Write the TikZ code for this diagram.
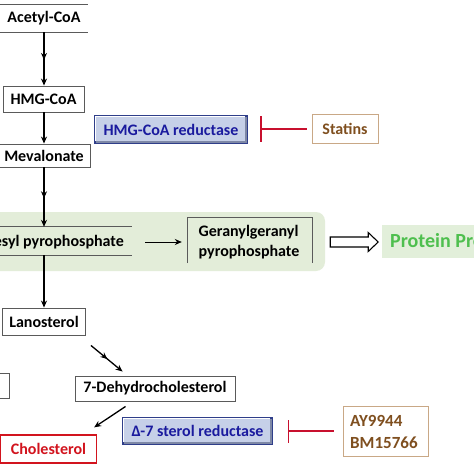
\documentclass[tikz,border=0pt]{standalone}
\usepackage{fontspec}
\setmainfont{Carlito}
\usetikzlibrary{arrows.meta,decorations.markings,calc}
\definecolor{boxgray}{HTML}{5A5A5A}
\definecolor{greenbg}{HTML}{E3EDD9}
\definecolor{protfill}{HTML}{E2EFDA}
\definecolor{protgreen}{HTML}{4EBF4E}
\definecolor{enzfill}{HTML}{C6D0E8}
\definecolor{enzborder}{HTML}{2F3E8A}
\definecolor{enzshade}{HTML}{7E88A6}
\definecolor{enztext}{HTML}{1A1A9E}
\definecolor{inhred}{HTML}{C8102E}
\definecolor{drugborder}{HTML}{C9A886}
\definecolor{drugtext}{HTML}{7F4F1F}
\definecolor{cholred}{HTML}{D2141E}
\tikzset{
  metab/.style={draw=boxgray, line width=0.9pt, inner sep=0pt, fill=white},
  plain/.style={inner sep=0pt},
  conn/.style={draw=black, line width=1.3pt, -{Stealth[length=7pt,width=6pt]}},
  midarrow/.style={postaction={decorate}, decoration={markings, mark=at position 0.52 with {\arrow{Stealth[length=7pt,width=6pt]}}}},
  enzyme/.style={draw=enzborder, line width=1.2pt, fill=enzfill, text=enztext, inner sep=0pt},
  drug/.style={draw=drugborder, line width=1pt, fill=white, text=drugtext, inner sep=0pt},
  inhib/.style={draw=inhred, line width=1.8pt},
}
\begin{document}
\begin{tikzpicture}[x=1pt, y=-1pt, font=\fontsize{16}{18}\selectfont\bfseries]
\useasboundingbox (0,0) rectangle (474,474);
\clip (0,0) rectangle (474,474);
\fill[white] (0,0) rectangle (474,474);

% green background
\fill[greenbg, rounded corners=9pt] (-20,212) rectangle (325,271);

% Acetyl-CoA (only top and bottom edges visible)
\node[plain, minimum width=88pt, minimum height=27pt] (acetyl) at (44,18.5) {Acetyl-CoA};
\draw[boxgray, line width=0.9pt] (acetyl.north west) -- (acetyl.north east);
\draw[boxgray, line width=0.9pt] (acetyl.south west) -- (acetyl.south east);

\node[metab, minimum width=81pt, minimum height=26pt] (hmg) at (43.5,99) {HMG-CoA};
\node[metab, minimum width=92pt, minimum height=23pt] (mev) at (44,155.5) {Mevalonate};

% Farnesyl pyrophosphate (top and bottom edges)
\node[plain, minimum width=132pt, minimum height=28pt] (fpp) at (66,241) {};
\draw[boxgray, line width=0.9pt] (fpp.north west) -- (fpp.north east);
\draw[boxgray, line width=0.9pt] (fpp.south west) -- (fpp.south east);
\node[plain, anchor=east] (fppl) at (124,242) {Farnesyl pyrophosphate};

% Geranylgeranyl pyrophosphate (open bottom)
\node[plain, minimum width=124pt, minimum height=45pt] (ggpp) at (250,240.5) {};
\draw[boxgray, line width=0.9pt] (ggpp.south west) -- (ggpp.north west) -- (ggpp.north east) -- (ggpp.south east);
\node[plain, align=left, font=\fontsize{16}{20}\selectfont\bfseries] (ggppl) at (249,242) {Geranylgeranyl\\pyrophosphate};

% Protein prenylation
\node[plain, fill=protfill, minimum width=120pt, minimum height=33pt, anchor=west] (prot) at (382,241.5) {};
\node[plain, anchor=west, text=protgreen, font=\fontsize{20}{22}\selectfont\bfseries] (protl) at (390,242) {Protein Prenylation};

% hollow arrow
\coordinate (ha) at ($(ggpp.east)+(18,1.5)$);
\draw[black, line width=1.1pt, fill=white] (ha) ++(0,-5) -- ++(38,0) -- ++(0,-4.5) -- ++(10,9.5) -- ++(-10,9.5) -- ++(0,-4.5) -- ++(-38,0) -- cycle;

\node[metab, minimum width=83pt, minimum height=27pt] (lano) at (44,321.5) {Lanosterol};
\node[metab, minimum width=80pt, minimum height=25pt] (cut) at (-31,385.5) {};
\node[metab, minimum width=160pt, minimum height=25pt] (dhc) at (155,388.5) {7-Dehydrocholesterol};
\node[metab, draw=cholred, line width=1.3pt, text=cholred, minimum width=96pt, minimum height=28pt] (chol) at (48.5,449) {Cholesterol};

% enzymes
\node[enzyme, minimum width=152pt, minimum height=27pt] (red1) at (171,129.5) {HMG-CoA reductase};
\draw[enzshade, line width=2.2pt] ($(red1.south west)+(2,-1.8)$) -- ($(red1.south east)+(-1.8,-1.8)$) -- ($(red1.north east)+(-1.8,2)$);
\draw[white, line width=1.2pt] ($(red1.south west)+(1.4,-2.5)$) -- ($(red1.north west)+(1.4,1.4)$) -- ($(red1.north east)+(-2.5,1.4)$);
\node[enzyme, minimum width=149pt, minimum height=26pt] (red2) at (197.5,431) {Δ-7 sterol reductase};
\draw[enzshade, line width=2.2pt] ($(red2.south west)+(2,-1.8)$) -- ($(red2.south east)+(-1.8,-1.8)$) -- ($(red2.north east)+(-1.8,2)$);
\draw[white, line width=1.2pt] ($(red2.south west)+(1.4,-2.5)$) -- ($(red2.north west)+(1.4,1.4)$) -- ($(red2.north east)+(-2.5,1.4)$);

% drugs
\node[drug, minimum width=85pt, minimum height=50pt] (ay) at (385.5,431) {};
\node[plain, align=left, text=drugtext, anchor=west, font=\fontsize{17}{22}\selectfont\bfseries] (ayl) at (350,432) {AY9944\\BM15766};
\node[drug, minimum width=66pt, minimum height=29pt] (statins) at (345,129) {Statins};

% inhibition
\draw[inhib, -{Bar[width=23pt]}, shorten <=9pt, shorten >=15pt] (ay.west) -- (ay.west -| red2.east);
\coordinate (s1) at ($(statins.west)+(-5,0)$);
\coordinate (s2) at ($(red1.east |- statins.west)+(13,0)$);
\draw[inhib] (s1) -- (s2);
\draw[inhib] ($(s2)+(0,-13)$) -- ($(s2)+(0,13)$);

% pathway connectors
\draw[conn, midarrow] (acetyl.south) -- (hmg.north -| acetyl.south);
\draw[conn] (hmg.south -| mev.north) -- (mev.north);
\draw[conn, midarrow] (mev.south) -- (mev.south |- fpp.north);
\draw[conn, line width=0.9pt, shorten <=21pt, shorten >=6pt] (fppl.east) -- (fppl.east -| ggpp.west);
\draw[conn] (lano.north |- fpp.south) -- (lano.north);
\coordinate (l1) at ($(lano.south east)+(5,10)$);
\coordinate (l2) at ($(dhc.north west)+(48,-4)$);
\draw[conn, midarrow] (l1) -- (l2);
\coordinate (c1) at ($(dhc.south west)+(51,5)$);
\coordinate (c2) at ($(chol.north east)+(-3,-7)$);
\draw[conn] (c1) -- (c2);
\end{tikzpicture}
\end{document}
